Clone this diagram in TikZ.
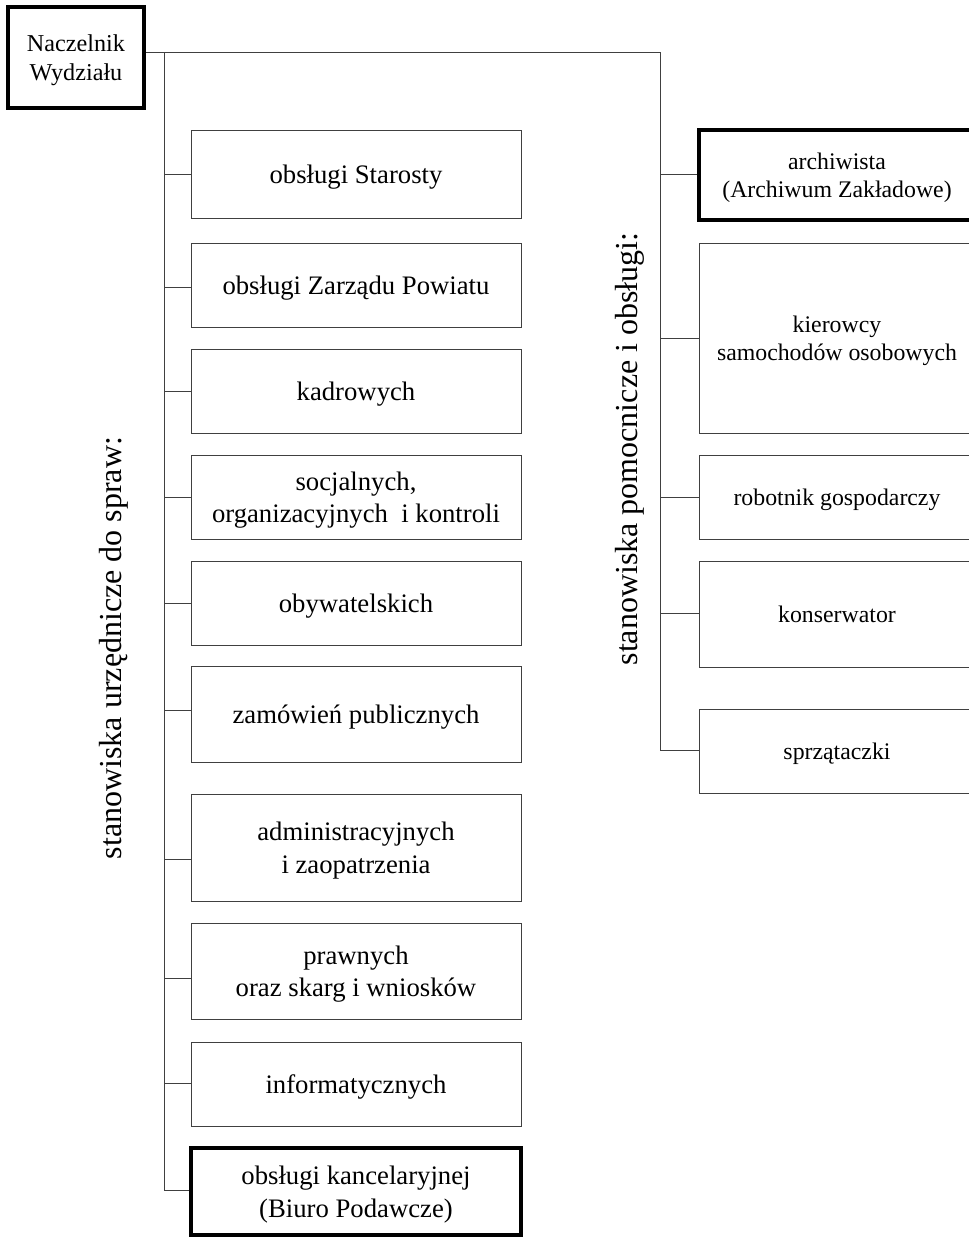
\documentclass[tikz,border=0pt]{standalone}
\usepackage{fontspec}
\setmainfont{Liberation Serif}
\begin{document}
\begin{tikzpicture}[x=1pt,y=-1pt,
  thinln/.style={draw=black!75,line width=1pt},
  lbox/.style={thinln,rectangle,minimum width=330pt,align=center,inner sep=0pt,text depth=0pt,font=\fontsize{26.7}{32.5}\selectfont},
  rbox/.style={thinln,rectangle,minimum width=276pt,align=center,inner sep=0pt,text depth=0pt,font=\fontsize{23.8}{28.5}\selectfont},
  thickbox/.style={draw=black,line width=3.2pt},
  conn/.style={draw=black!75,line width=1pt},
  vlabel/.style={rotate=90,inner sep=0pt,font=\fontsize{32}{36}\selectfont}]
\useasboundingbox (0,0) rectangle (969,1237);
\clip (0,0) rectangle (969,1237);
% head
\node[rectangle,thickbox,minimum width=136pt,minimum height=101pt,inner sep=0pt,text depth=0pt,align=center,font=\fontsize{24.2}{29}\selectfont] (nacz) at (76,57.5) {Naczelnik\\Wydziału};
% left boxes
\node[lbox,minimum height=88pt] (l1) at (356,174) {obsługi Starosty};
\node[lbox,minimum height=84pt] (l2) at (356,285) {obsługi Zarządu Powiatu};
\node[lbox,minimum height=84pt] (l3) at (356,391) {kadrowych};
\node[lbox,minimum height=84pt] (l4) at (356,497) {socjalnych,\\organizacyjnych\ \ i kontroli};
\node[lbox,minimum height=84pt] (l5) at (356,603) {obywatelskich};
\node[lbox,minimum height=96pt] (l6) at (356,714) {zamówień publicznych};
\node[lbox,minimum height=107pt] (l7) at (356,847.5) {administracyjnych\\i zaopatrzenia};
\node[lbox,minimum height=96pt] (l8) at (356,971) {prawnych\\oraz skarg i wniosków};
\node[lbox,minimum height=84pt] (l9) at (356,1084) {informatycznych};
\node[lbox,thickbox,minimum height=87pt] (l10) at (356,1191.5) {obsługi kancelaryjnej\\(Biuro Podawcze)};
% right boxes
\node[rbox,thickbox,minimum height=90pt] (r1) at (837,175) {archiwista\\(Archiwum Zakładowe)};
\node[rbox,minimum height=190pt] (r2) at (837,338) {kierowcy\\samochodów osobowych};
\node[rbox,minimum height=84pt] (r3) at (837,497) {robotnik gospodarczy};
\node[rbox,minimum height=106pt] (r4) at (837,614) {konserwator};
\node[rbox,minimum height=84pt] (r5) at (837,751) {sprzątaczki};
% vertical labels
\node[vlabel] (lblL) at (114,648) {stanowiska urzędnicze do spraw:};
\node[vlabel] (lblR) at (630,449) {stanowiska pomocnicze i obsługi:};
% trunks
\coordinate (top) at (164,52);
\coordinate (rtop) at (660,52);
\coordinate (lend) at (164,1190);
\coordinate (rend) at (660,750);
\draw[conn] (nacz.east |- top) -- (rtop) -- (rend);
\draw[conn] (top) -- (lend);
% left branches
\coordinate (j1) at (164,174);
\coordinate (j2) at (164,287);
\coordinate (j3) at (164,391);
\coordinate (j4) at (164,497);
\coordinate (j5) at (164,603);
\coordinate (j6) at (164,710);
\coordinate (j7) at (164,859);
\coordinate (j8) at (164,978);
\coordinate (j9) at (164,1083);
\draw[conn] (j1) -- (l1.west |- j1);
\draw[conn] (j2) -- (l2.west |- j2);
\draw[conn] (j3) -- (l3.west |- j3);
\draw[conn] (j4) -- (l4.west |- j4);
\draw[conn] (j5) -- (l5.west |- j5);
\draw[conn] (j6) -- (l6.west |- j6);
\draw[conn] (j7) -- (l7.west |- j7);
\draw[conn] (j8) -- (l8.west |- j8);
\draw[conn] (j9) -- (l9.west |- j9);
\draw[conn] (lend) -- (l10.west |- lend);
% right branches
\coordinate (k1) at (660,174);
\coordinate (k2) at (660,338);
\coordinate (k3) at (660,497);
\coordinate (k4) at (660,613);
\draw[conn] (k1) -- (r1.west |- k1);
\draw[conn] (k2) -- (r2.west |- k2);
\draw[conn] (k3) -- (r3.west |- k3);
\draw[conn] (k4) -- (r4.west |- k4);
\draw[conn] (rend) -- (r5.west |- rend);
\end{tikzpicture}
\end{document}
